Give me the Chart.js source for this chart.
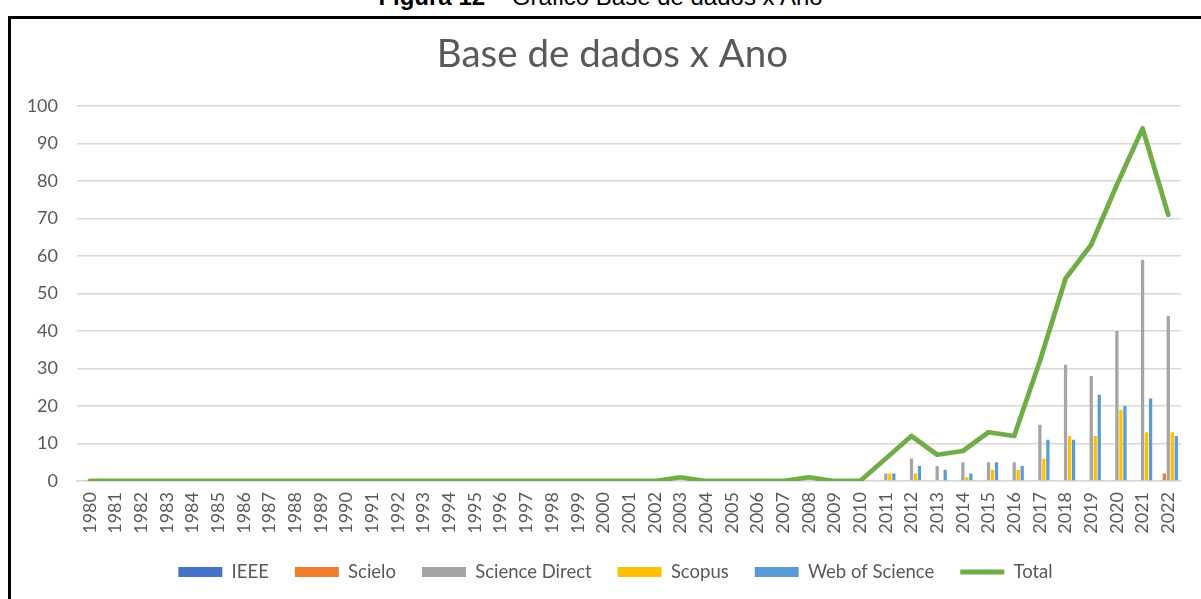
<!DOCTYPE html>
<html>
<head>
<meta charset="utf-8">
<script src="https://cdn.jsdelivr.net/npm/chart.js@4/dist/chart.umd.min.js"></script>
<style>
  html, body { margin: 0; padding: 0; background: #fff; overflow: hidden; }
  #wrap { position: relative; width: 1201px; height: 599px; }
  #caption { position: absolute; left: 0; width: 1201px; top: -15px; text-align: center;
    font-family: "Liberation Sans", Arial, sans-serif; font-size: 24px; line-height: 24px; color: #000; white-space: nowrap; }
  #frame { position: absolute; left: 8px; top: 16px; width: 1230px; height: 640px; border: 3px solid #000; pointer-events: none; }
  canvas { position: absolute; left: 0; top: 0; }
</style>
</head>
<body>
<div id="wrap">
  <div id="caption"><b>Figura 12</b> – Gráfico Base de dados x Ano</div>
  <canvas id="c" width="1201" height="599"></canvas>
  <div id="frame"></div>
</div>
<script>
const years = ["1980","1981","1982","1983","1984","1985","1986","1987","1988","1989",
  "1990","1991","1992","1993","1994","1995","1996","1997","1998","1999",
  "2000","2001","2002","2003","2004","2005","2006","2007","2008","2009",
  "2010","2011","2012","2013","2014","2015","2016","2017","2018","2019",
  "2020","2021","2022"];
const yTicks = [0,10,20,30,40,50,60,70,80,90,100];
//                1980 ... 2010 (31 zeros)                                                   2011 .. 2022
const ieee          = [0,0,0,0,0,0,0,0,0,0, 0,0,0,0,0,0,0,0,0,0, 0,0,0,0,0,0,0,0,0,0, 0,  0,0,0,0,0,0,0,0,0,0,0,0];
const scielo        = [0,0,0,0,0,0,0,0,0,0, 0,0,0,0,0,0,0,0,0,0, 0,0,0,0,0,0,0,0,0,0, 0,  0,0,0,0,0,0,0,0,0,0,0,2];
const scienceDirect = [0,0,0,0,0,0,0,0,0,0, 0,0,0,0,0,0,0,0,0,0, 0,0,0,0,0,0,0,0,0,0, 0,  2,6,4,5,5,5,15,31,28,40,59,44];
const scopus        = [0,0,0,0,0,0,0,0,0,0, 0,0,0,0,0,0,0,0,0,0, 0,0,0,0,0,0,0,0,0,0, 0,  2,2,0,1,3,3,6,12,12,19,13,13];
const webOfScience  = [0,0,0,0,0,0,0,0,0,0, 0,0,0,0,0,0,0,0,0,0, 0,0,0,0,0,0,0,0,0,0, 0,  2,4,3,2,5,4,11,11,23,20,22,12];
const total         = [0,0,0,0,0,0,0,0,0,0, 0,0,0,0,0,0,0,0,0,0, 0,0,0,1,0,0,0,0,1,0, 0,  6,12,7,8,13,12,32,54,63,79,94,71];

const FONT = "Lato, 'Open Sans', sans-serif";
const TXT = "#595959";

function barSet(label, data, color) {
  return { type: 'bar', label, data, backgroundColor: color, borderWidth: 0,
    pointStyle: 'rect', order: 1, categoryPercentage: 0.78, barPercentage: 0.82 };
}

const shiftBoxes = {
  id: 'shiftBoxes',
  afterLayout(chart) {
    const lg = chart.legend;
    if (lg) { lg.left += 11; lg.right += 11; }
    const tb = chart.titleBlock;
    if (tb) { tb.left += 8; tb.right += 8; }
  }
};

new Chart(document.getElementById('c'), {
  type: 'bar',
  plugins: [shiftBoxes],
  data: {
    labels: years,
    datasets: [
      barSet('IEEE', ieee, '#4472C4'),
      barSet('Scielo', scielo, '#ED7D31'),
      barSet('Science Direct', scienceDirect, '#A5A5A5'),
      barSet('Scopus', scopus, '#FFC000'),
      barSet('Web of Science', webOfScience, '#5B9BD5'),
      { type: 'line', label: 'Total', data: total, borderColor: '#70AD47', backgroundColor: '#70AD47',
        borderWidth: 4.8, pointRadius: 0, pointHoverRadius: 0, tension: 0, pointStyle: 'line',
        borderJoinStyle: 'round', borderCapStyle: 'round', order: 0 }
    ]
  },
  options: {
    responsive: false,
    animation: false,
    layout: { padding: { top: 19, left: 20, right: 12, bottom: 7.75 } },
    plugins: {
      title: { display: true, text: 'Base de dados x Ano', color: TXT,
        font: { family: FONT, size: 38.5, weight: 'normal' }, padding: { top: 12.9, bottom: 27.9 } },
      legend: { position: 'bottom',
        labels: { color: TXT, font: { family: FONT, size: 18.5 }, usePointStyle: true,
          pointStyleWidth: 44, boxHeight: 10, padding: 26,
          sort: (a, b) => a.datasetIndex - b.datasetIndex } },
      tooltip: { enabled: false }
    },
    scales: {
      x: {
        grid: { display: false, drawTicks: false },
        border: { display: true, color: '#D9D9D9', width: 1.5 },
        ticks: { color: TXT, font: { family: FONT, size: 18 }, autoSkip: false,
          minRotation: 90, maxRotation: 90, padding: 11 },
        afterFit: s => { s.height = 55.75; }
      },
      y: {
        min: 0, max: 100,
        afterBuildTicks: s => { s.ticks = yTicks.map(v => ({ value: v })); },
        grid: { color: '#D9D9D9', lineWidth: 1.5, drawTicks: false },
        border: { display: false },
        ticks: { color: TXT, font: { family: FONT, size: 18 }, padding: 19 },
        afterFit: s => { s.width = 57; }
      }
    }
  }
});
</script>
</body>
</html>
